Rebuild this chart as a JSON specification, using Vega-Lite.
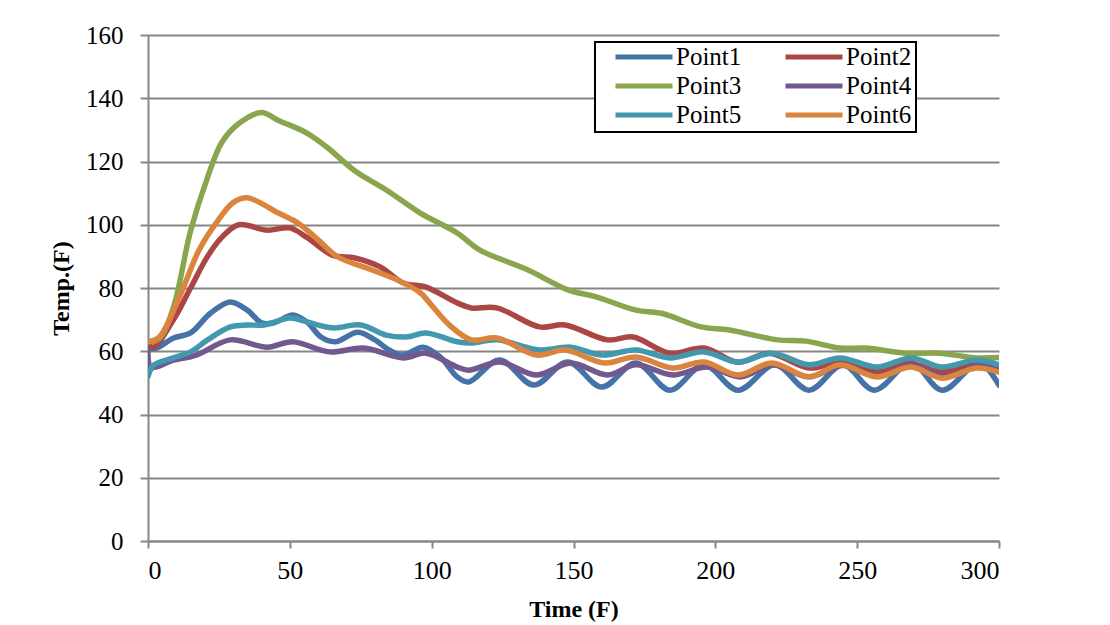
{
  "$schema": "https://vega.github.io/schema/vega-lite/v6.json",
  "autosize": "none",
  "width": 851,
  "height": 506,
  "padding": {"left": 148, "top": 35, "right": 111, "bottom": 84},
  "background": "white",
  "config": {
    "font": "Liberation Serif",
    "view": {"stroke": null},
    "legend": {"labelFont": "Liberation Serif"}
  },
  "data": {"values": [
    {"s":"Point1","t":0,"v":61},{"s":"Point1","t":3,"v":61},{"s":"Point1","t":9,"v":64.2},{"s":"Point1","t":15,"v":65.8},{"s":"Point1","t":22,"v":72},{"s":"Point1","t":29,"v":75.6},{"s":"Point1","t":35,"v":73},{"s":"Point1","t":40,"v":69},{"s":"Point1","t":44.5,"v":69},{"s":"Point1","t":51,"v":71.5},{"s":"Point1","t":56,"v":69.3},{"s":"Point1","t":61,"v":64.5},{"s":"Point1","t":66,"v":63},{"s":"Point1","t":74,"v":66},{"s":"Point1","t":80,"v":63.6},{"s":"Point1","t":85,"v":60.4},{"s":"Point1","t":90,"v":58.8},{"s":"Point1","t":97,"v":61.3},{"s":"Point1","t":103,"v":58.2},{"s":"Point1","t":109,"v":51.9},{"s":"Point1","t":113,"v":50.3},{"s":"Point1","t":124,"v":57.2},{"s":"Point1","t":136,"v":49.3},{"s":"Point1","t":148,"v":56.6},{"s":"Point1","t":160,"v":48.7},{"s":"Point1","t":172,"v":56.3},{"s":"Point1","t":184,"v":47.7},{"s":"Point1","t":196,"v":55.7},{"s":"Point1","t":208,"v":47.7},{"s":"Point1","t":221,"v":55.7},{"s":"Point1","t":233,"v":47.7},{"s":"Point1","t":245,"v":55.7},{"s":"Point1","t":256,"v":47.7},{"s":"Point1","t":269,"v":56.3},{"s":"Point1","t":280,"v":47.7},{"s":"Point1","t":293,"v":56.3},{"s":"Point1","t":300,"v":49.3},
    {"s":"Point2","t":0,"v":62},{"s":"Point2","t":2,"v":61.3},{"s":"Point2","t":9,"v":70},{"s":"Point2","t":15,"v":80},{"s":"Point2","t":21,"v":90},{"s":"Point2","t":26,"v":96},{"s":"Point2","t":32,"v":100},{"s":"Point2","t":42,"v":98.3},{"s":"Point2","t":50,"v":99},{"s":"Point2","t":56,"v":96},{"s":"Point2","t":65,"v":90.4},{"s":"Point2","t":73,"v":89.5},{"s":"Point2","t":82,"v":86.6},{"s":"Point2","t":90,"v":81.6},{"s":"Point2","t":98,"v":80.3},{"s":"Point2","t":109,"v":75.3},{"s":"Point2","t":114,"v":73.7},{"s":"Point2","t":123,"v":73.7},{"s":"Point2","t":138,"v":67.7},{"s":"Point2","t":147,"v":68.3},{"s":"Point2","t":162,"v":63.6},{"s":"Point2","t":171,"v":64.5},{"s":"Point2","t":184,"v":59.4},{"s":"Point2","t":196,"v":61},{"s":"Point2","t":208,"v":56.5},{"s":"Point2","t":219,"v":59.4},{"s":"Point2","t":233,"v":54.7},{"s":"Point2","t":244,"v":56.6},{"s":"Point2","t":257,"v":53.4},{"s":"Point2","t":268,"v":56.3},{"s":"Point2","t":280,"v":53.4},{"s":"Point2","t":292,"v":56.3},{"s":"Point2","t":300,"v":54},
    {"s":"Point3","t":0,"v":63},{"s":"Point3","t":4,"v":64},{"s":"Point3","t":9,"v":74},{"s":"Point3","t":15,"v":98},{"s":"Point3","t":21,"v":115},{"s":"Point3","t":26,"v":126},{"s":"Point3","t":32,"v":132},{"s":"Point3","t":40,"v":135.5},{"s":"Point3","t":46,"v":133},{"s":"Point3","t":56,"v":129},{"s":"Point3","t":63,"v":124.6},{"s":"Point3","t":73,"v":117},{"s":"Point3","t":84,"v":111},{"s":"Point3","t":96,"v":103.7},{"s":"Point3","t":109,"v":97.4},{"s":"Point3","t":117,"v":92},{"s":"Point3","t":134,"v":85.7},{"s":"Point3","t":148,"v":79.4},{"s":"Point3","t":158,"v":77.2},{"s":"Point3","t":172,"v":73},{"s":"Point3","t":181,"v":72},{"s":"Point3","t":195,"v":67.7},{"s":"Point3","t":205,"v":66.7},{"s":"Point3","t":222,"v":63.6},{"s":"Point3","t":232,"v":63.2},{"s":"Point3","t":244,"v":61},{"s":"Point3","t":253,"v":61},{"s":"Point3","t":267,"v":59.4},{"s":"Point3","t":279,"v":59.4},{"s":"Point3","t":292,"v":57.9},{"s":"Point3","t":300,"v":58},
    {"s":"Point4","t":0,"v":61},{"s":"Point4","t":1,"v":55},{"s":"Point4","t":9,"v":57.2},{"s":"Point4","t":17,"v":58.8},{"s":"Point4","t":29,"v":63.6},{"s":"Point4","t":42,"v":61.3},{"s":"Point4","t":51,"v":63},{"s":"Point4","t":64,"v":59.8},{"s":"Point4","t":76,"v":61},{"s":"Point4","t":90,"v":57.9},{"s":"Point4","t":98,"v":59.4},{"s":"Point4","t":109,"v":55},{"s":"Point4","t":113,"v":54},{"s":"Point4","t":124,"v":56.6},{"s":"Point4","t":137,"v":52.5},{"s":"Point4","t":149,"v":56.3},{"s":"Point4","t":162,"v":52.5},{"s":"Point4","t":172,"v":55.7},{"s":"Point4","t":185,"v":52.5},{"s":"Point4","t":197,"v":55},{"s":"Point4","t":209,"v":51.9},{"s":"Point4","t":220,"v":55.7},{"s":"Point4","t":233,"v":51.9},{"s":"Point4","t":245,"v":55.5},{"s":"Point4","t":257,"v":52},{"s":"Point4","t":269,"v":55.5},{"s":"Point4","t":281,"v":52},{"s":"Point4","t":293,"v":55.5},{"s":"Point4","t":300,"v":54},
    {"s":"Point5","t":0,"v":52},{"s":"Point5","t":2,"v":55.6},{"s":"Point5","t":9,"v":57.9},{"s":"Point5","t":15,"v":59.8},{"s":"Point5","t":21,"v":63.6},{"s":"Point5","t":29,"v":67.7},{"s":"Point5","t":35,"v":68.3},{"s":"Point5","t":41,"v":68.3},{"s":"Point5","t":50,"v":70.5},{"s":"Point5","t":56,"v":69.3},{"s":"Point5","t":65,"v":67.4},{"s":"Point5","t":75,"v":68.3},{"s":"Point5","t":84,"v":65.1},{"s":"Point5","t":91,"v":64.5},{"s":"Point5","t":98,"v":65.8},{"s":"Point5","t":109,"v":63},{"s":"Point5","t":114,"v":62.6},{"s":"Point5","t":123,"v":63.6},{"s":"Point5","t":138,"v":60.4},{"s":"Point5","t":149,"v":61.3},{"s":"Point5","t":160,"v":58.8},{"s":"Point5","t":172,"v":60.4},{"s":"Point5","t":184,"v":57.9},{"s":"Point5","t":196,"v":59.8},{"s":"Point5","t":208,"v":56.6},{"s":"Point5","t":220,"v":59.4},{"s":"Point5","t":233,"v":55.7},{"s":"Point5","t":244,"v":57.9},{"s":"Point5","t":257,"v":55},{"s":"Point5","t":269,"v":57.9},{"s":"Point5","t":280,"v":55},{"s":"Point5","t":292,"v":57.2},{"s":"Point5","t":300,"v":55.7},
    {"s":"Point6","t":0,"v":63},{"s":"Point6","t":4,"v":64.5},{"s":"Point6","t":11,"v":77},{"s":"Point6","t":18,"v":92},{"s":"Point6","t":24,"v":100.5},{"s":"Point6","t":30,"v":107},{"s":"Point6","t":35,"v":108.5},{"s":"Point6","t":39,"v":107.2},{"s":"Point6","t":46,"v":103.7},{"s":"Point6","t":53,"v":100.5},{"s":"Point6","t":60,"v":95.2},{"s":"Point6","t":67,"v":89.8},{"s":"Point6","t":79,"v":85.7},{"s":"Point6","t":88,"v":82.5},{"s":"Point6","t":96,"v":78.5},{"s":"Point6","t":100,"v":74.5},{"s":"Point6","t":106,"v":68.5},{"s":"Point6","t":114,"v":63.6},{"s":"Point6","t":123,"v":64.2},{"s":"Point6","t":137,"v":58.8},{"s":"Point6","t":147,"v":60.4},{"s":"Point6","t":161,"v":56.3},{"s":"Point6","t":172,"v":58.2},{"s":"Point6","t":185,"v":54.7},{"s":"Point6","t":196,"v":56.6},{"s":"Point6","t":208,"v":52.5},{"s":"Point6","t":220,"v":56.3},{"s":"Point6","t":233,"v":51.9},{"s":"Point6","t":244,"v":55.7},{"s":"Point6","t":257,"v":51.9},{"s":"Point6","t":269,"v":55},{"s":"Point6","t":280,"v":51.5},{"s":"Point6","t":292,"v":54.7},{"s":"Point6","t":300,"v":53.4}
  ]},
  "mark": {"type": "line", "strokeWidth": 5.5, "interpolate": "catmull-rom", "strokeCap": "round", "clip": true},
  "encoding": {
    "x": {"field": "t", "type": "quantitative",
      "scale": {"domain": [0, 300], "nice": false, "zero": true},
      "axis": {"values": [0,50,100,150,200,250,300], "grid": false, "domainColor": "#868686", "domainWidth": 2, "tickColor": "#868686", "tickWidth": 2, "tickSize": 7,
        "labelFont": "Liberation Serif", "labelFontSize": 26, "labelColor": "black", "labelPadding": 9,
        "title": "Time (F)", "titleFont": "Liberation Serif", "titleFontSize": 24, "titleFontWeight": "bold", "titleColor": "black", "titlePadding": 14}},
    "y": {"field": "v", "type": "quantitative",
      "scale": {"domain": [0, 160], "nice": false},
      "axis": {"values": [0,20,40,60,80,100,120,140,160], "grid": true, "gridColor": "#868686", "gridWidth": 2, "domainColor": "#868686", "domainWidth": 2, "tickColor": "#868686", "tickWidth": 2, "tickSize": 8,
        "labelFont": "Liberation Serif", "labelFontSize": 25, "labelColor": "black", "labelPadding": 17,
        "title": "Temp.(F)", "titleFont": "Liberation Serif", "titleFontSize": 24, "titleFontWeight": "bold", "titleColor": "black", "titlePadding": 12}},
    "color": {"field": "s", "type": "nominal",
      "scale": {"domain": ["Point1","Point2","Point3","Point4","Point5","Point6"], "range": ["#4572A7","#AA4643","#89A54E","#71588F","#4198AF","#DB843D"]},
      "legend": {"title": null, "orient": "none", "legendX": 447, "legendY": 7, "columns": 2, "direction": "horizontal",
        "symbolType": "stroke", "symbolSize": 3249, "symbolStrokeWidth": 5, "labelFont": "Liberation Serif", "labelFontSize": 25, "labelColor": "black",
        "labelOffset": 1, "columnPadding": 27, "rowPadding": 4, "clipHeight": 22, "padding": 4, "symbolOffset": 14, "strokeColor": "black", "fillColor": "white",
        "encode": {"legend": {"update": {"strokeWidth": {"value": 2}}}, "labels": {"update": {"font": {"value": "Liberation Serif"}}}}}}
  }
}
